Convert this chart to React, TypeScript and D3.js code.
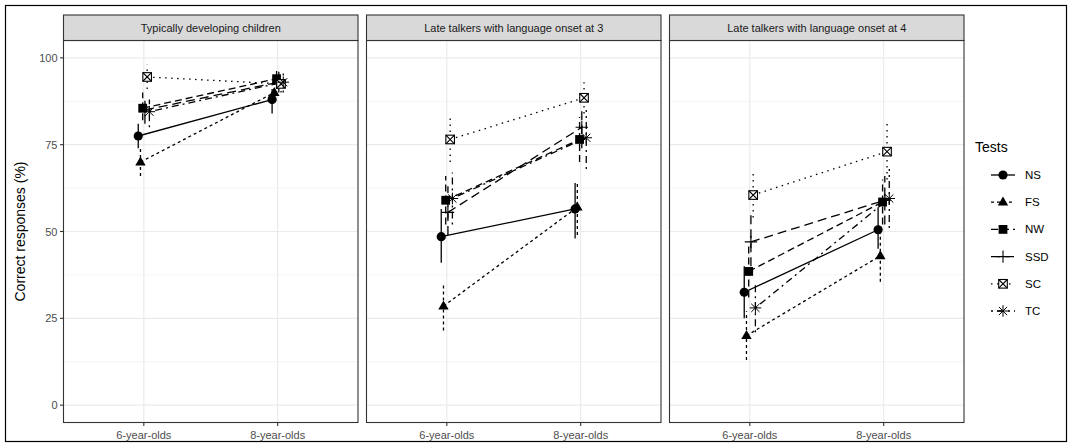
import React from "react";
import * as d3 from "d3";

const panels = [
  "Typically developing children",
  "Late talkers with language onset at 3",
  "Late talkers with language onset at 4",
];
const ages = ["6-year-olds", "8-year-olds"];
const tests = ["NS", "FS", "NW", "SSD", "SC", "TC"];
const yTicks = [0, 25, 50, 75, 100];

// mean values [panel][test][age]
const meanTD = [[77.5, 88], [70, 90], [85.5, 94], [85, 93], [94.5, 92.5], [84.5, 93]];
const lowTD = [[74, 84], [66, 87], [82, 91], [81, 90], [91, 90], [80, 90]];
const highTD = [[81, 91], [74, 93], [90, 97], [89, 96], [98, 95], [88, 96]];

const meanLT3 = [[48.5, 56.5], [28.5, 57], [59, 76.5], [55.5, 80], [76.5, 88.5], [59.5, 77]];
const lowLT3 = [[41, 48], [21.5, 49], [52, 70], [49, 74], [70, 84], [52, 68]];
const highLT3 = [[56.5, 64], [35, 64], [66, 83], [63, 86], [83, 93], [67, 85]];

const meanLT4 = [[32.5, 50.5], [20, 43], [38.5, 58.5], [47, 59], [60.5, 73], [28, 59.5]];
const lowLT4 = [[25, 45], [13, 35.5], [31, 52], [40, 52], [54, 65], [21, 51]];
const highLT4 = [[40, 57], [27, 50], [46, 65], [55, 66], [67, 81.5], [35, 68]];

const means = [meanTD, meanLT3, meanLT4];
const lows = [lowTD, lowLT3, lowLT4];
const highs = [highTD, highLT3, highLT4];

const dashes: Record<string, string> = {
  NS: "none",
  FS: "3,3",
  NW: "7,4",
  SSD: "9,5",
  SC: "1.5,4.5",
  TC: "2,4,7,4",
};

const W = 1070;
const H = 447;
const panelX = [63.5, 366.5, 669.5];
const panelW = 294.5;
const top = 40.5;
const bottom = 422.5;
const stripTop = 15;
const font = "'Liberation Sans', Arial, Helvetica, sans-serif";
const ink = "#1a1a1a";

function Marker({ test, x, y }: { test: string; x: number; y: number }) {
  const t = `translate(${x},${y})`;
  switch (test) {
    case "NS":
      return <circle cx={x} cy={y} r={4.6} fill="black" />;
    case "FS":
      return <path transform={t} d="M0,-5.6L5.2,3.4L-5.2,3.4Z" fill="black" />;
    case "NW":
      return <rect x={x - 4.4} y={y - 4.4} width={8.8} height={8.8} fill="black" />;
    case "SSD":
      return (
        <path transform={t} d="M-6.2,0H6.2M0,-6.2V6.2" stroke="black" strokeWidth={1.1} fill="none" />
      );
    case "SC":
      return (
        <g transform={t} stroke="black" strokeWidth={1.1} fill="white">
          <rect x={-4.3} y={-4.3} width={8.6} height={8.6} />
          <path d="M-4.3,-4.3L4.3,4.3M-4.3,4.3L4.3,-4.3" fill="none" />
        </g>
      );
    case "TC":
      return (
        <path
          transform={t}
          d="M-5.8,0H5.8M0,-5.8V5.8M-4.1,-4.1L4.1,4.1M-4.1,4.1L4.1,-4.1"
          stroke="black"
          strokeWidth={1}
          fill="none"
        />
      );
  }
  return null;
}

export default function App() {
  const y = d3.scaleLinear().domain([-5, 105]).range([bottom, top]);
  const minor = [12.5, 37.5, 62.5, 87.5];
  const dodge = 0.1;
  const nT = tests.length;
  const offset = (i: number) => -dodge / 2 + dodge / (2 * nT) + (i * dodge) / nT;

  const legendY = (i: number) => 175 + i * 27.2;

  return (
    <svg width={W} height={H} style={{ position: "absolute", left: 0, top: 0, background: "white" }}>
      <rect x={0} y={0} width={W} height={H} fill="white" />
      <rect x={5.5} y={5.5} width={1061} height={436} fill="none" stroke="black" strokeWidth={1.2} />

      {panels.map((p, pi) => {
        const x0 = panelX[pi];
        const x = d3.scaleLinear().domain([0.4, 2.6]).range([x0, x0 + panelW]);
        const line = d3
          .line<[number, number]>()
          .x((d) => d[0])
          .y((d) => d[1]);
        return (
          <g key={p}>
            <rect x={x0} y={top} width={panelW} height={bottom - top} fill="white" />
            {minor.map((v) => (
              <line key={"mi" + v} x1={x0} x2={x0 + panelW} y1={y(v)} y2={y(v)} stroke="#f2f2f2" strokeWidth={0.8} />
            ))}
            {yTicks.map((v) => (
              <line key={"ma" + v} x1={x0} x2={x0 + panelW} y1={y(v)} y2={y(v)} stroke="#ebebeb" strokeWidth={1.2} />
            ))}
            {ages.map((a, ai) => (
              <line key={a} x1={x(ai + 1)} x2={x(ai + 1)} y1={top} y2={bottom} stroke="#ebebeb" strokeWidth={1.2} />
            ))}

            {tests.map((t, ti) => {
              const pts: [number, number][] = ages.map((_, ai) => [
                x(ai + 1 + offset(ti)),
                y(means[pi][ti][ai]),
              ]);
              return (
                <g key={t}>
                  {ages.map((_, ai) => (
                    <line
                      key={"eb" + ai}
                      x1={x(ai + 1 + offset(ti))}
                      x2={x(ai + 1 + offset(ti))}
                      y1={y(lows[pi][ti][ai])}
                      y2={y(highs[pi][ti][ai])}
                      stroke="black"
                      strokeWidth={1.3}
                      strokeDasharray={dashes[t]}
                    />
                  ))}
                  <path
                    d={line(pts) || ""}
                    fill="none"
                    stroke="black"
                    strokeWidth={1.3}
                    strokeDasharray={dashes[t]}
                  />
                </g>
              );
            })}
            {tests.map((t, ti) =>
              ages.map((_, ai) => (
                <Marker
                  key={t + ai}
                  test={t}
                  x={x(ai + 1 + offset(ti))}
                  y={y(means[pi][ti][ai])}
                />
              ))
            )}

            <rect x={x0} y={top} width={panelW} height={bottom - top} fill="none" stroke="#333333" strokeWidth={1.1} />
            <rect x={x0} y={stripTop} width={panelW} height={top - stripTop} fill="#d9d9d9" stroke="#333333" strokeWidth={1.1} />
            <text
              x={x0 + panelW / 2}
              y={(stripTop + top) / 2 + 4}
              textAnchor="middle"
              fontFamily={font}
              fontSize={11}
              fill={ink}
            >
              {p}
            </text>

            {ages.map((a, ai) => (
              <g key={"xt" + a}>
                <line x1={x(ai + 1)} x2={x(ai + 1)} y1={bottom} y2={bottom + 3.5} stroke="#333333" strokeWidth={1.1} />
                <text
                  x={x(ai + 1)}
                  y={bottom + 16}
                  textAnchor="middle"
                  fontFamily={font}
                  fontSize={11}
                  fill="#4d4d4d"
                >
                  {a}
                </text>
              </g>
            ))}
          </g>
        );
      })}

      {yTicks.map((v) => (
        <g key={"yt" + v}>
          <line x1={panelX[0] - 3.5} x2={panelX[0]} y1={y(v)} y2={y(v)} stroke="#333333" strokeWidth={1.1} />
          <text
            x={panelX[0] - 6}
            y={y(v) + 4}
            textAnchor="end"
            fontFamily={font}
            fontSize={11}
            fill="#4d4d4d"
          >
            {v}
          </text>
        </g>
      ))}
      <text
        transform={`translate(25,${(top + bottom) / 2}) rotate(-90)`}
        textAnchor="middle"
        fontFamily={font}
        fontSize={14}
        fill="black"
      >
        Correct responses (%)
      </text>

      <text x={975} y={152} fontFamily={font} fontSize={14} fill="black">
        Tests
      </text>
      {tests.map((t, i) => (
        <g key={"lg" + t}>
          <line
            x1={991}
            x2={1015}
            y1={legendY(i)}
            y2={legendY(i)}
            stroke="black"
            strokeWidth={1.3}
            strokeDasharray={dashes[t]}
          />
          <Marker test={t} x={1003} y={legendY(i)} />
          <text x={1025} y={legendY(i) + 4} fontFamily={font} fontSize={11.5} fill="black">
            {t}
          </text>
        </g>
      ))}
    </svg>
  );
}
